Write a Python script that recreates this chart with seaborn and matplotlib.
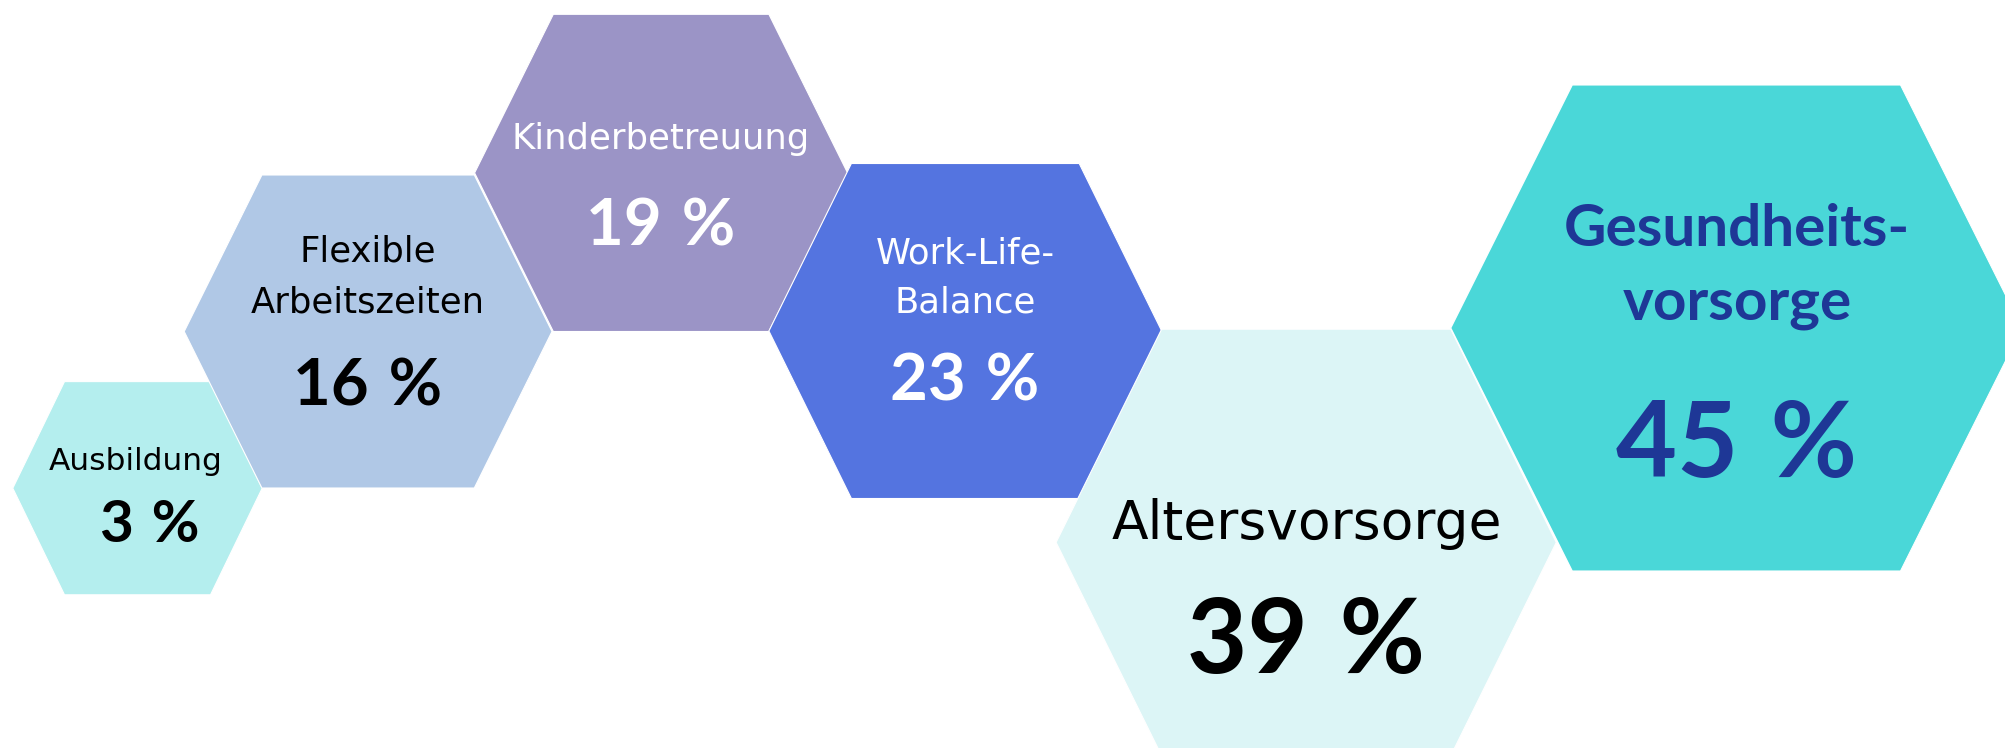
import numpy as np
import seaborn as sns
import matplotlib.pyplot as plt
from matplotlib.patches import Polygon

# data
categories = ["Ausbildung", "Flexible Arbeitszeiten", "Kinderbetreuung",
              "Work-Life-Balance", "Altersvorsorge", "Gesundheitsvorsorge"]
label_lines = [["Ausbildung"], ["Flexible", "Arbeitszeiten"], ["Kinderbetreuung"],
               ["Work-Life-", "Balance"], ["Altersvorsorge"], ["Gesundheits-", "vorsorge"]]
values = [3, 16, 19, 23, 39, 45]

# layout (pixels, figure is 2006 x 748): center x, center y, half width, half top edge, half height
hex_cx = [137.5, 368.1, 661.1, 965.3, 1306.2, 1736.4]
hex_cy = [488.2, 331.5, 172.9, 331.0, 542.4, 328.0]
hex_w = [124.7, 183.9, 186.5, 196.4, 250.1, 285.6]
hex_t = [73.0, 106.2, 107.8, 113.9, 144.6, 164.1]
hex_h = [106.6, 156.5, 158.6, 167.5, 213.2, 243.0]
# text: label baseline, line step, label size(pt), value baseline, value x, value size(pt), label bold
lab_x = [136, 368, 661, 965, 1307, 1737]
lab_y = [470, 261.5, 149, 263, 539, 245.5]
lab_step = [0, 51, 0, 49.5, 0, 74]
lab_size = [22.5, 25.5, 25.5, 25.5, 38.5, 42]
val_y = [542, 405.5, 245.7, 400.7, 672.6, 477]
val_x = [150, 368, 661, 965, 1306, 1737]
val_size = [42, 47, 47, 47, 75, 76]
lab_bold = [False, False, False, False, False, True]

hex_colors = ["#b4eeee", "#b0c8e6", "#9b94c6", "#5474e0", "#dcf5f6", "#4ad7d8"]
text_colors = ["#000000", "#000000", "#ffffff", "#ffffff", "#000000", "#1e3796"]

sns.set_theme(style="white")
plt.rcParams['font.family'] = ['Lato', 'DejaVu Sans']

fig = plt.figure(figsize=(20.06, 7.48), dpi=100)
ax = fig.add_axes([0, 0, 1, 1])
ax.set_xlim(0, 2006)
ax.set_ylim(748, 0)
ax.axis("off")

for i in range(len(categories)):
    cx, cy, w, t, h = hex_cx[i], hex_cy[i], hex_w[i], hex_t[i], hex_h[i]
    pts = np.array([[cx - w, cy], [cx - t, cy - h], [cx + t, cy - h],
                    [cx + w, cy], [cx + t, cy + h], [cx - t, cy + h]])
    ax.add_patch(Polygon(pts, closed=True, facecolor=hex_colors[i],
                         edgecolor="white", linewidth=0.8, zorder=i + 1))
    # regular labels in a wider face, bold ones in Lato
    fam = ['Lato', 'DejaVu Sans'] if lab_bold[i] else ['DejaVu Sans']
    for j, line in enumerate(label_lines[i]):
        ax.text(lab_x[i], lab_y[i] + j * lab_step[i], line, ha="center", va="baseline",
                fontsize=lab_size[i], color=text_colors[i], family=fam,
                fontweight="bold" if lab_bold[i] else "normal", zorder=20)
    ax.text(val_x[i], val_y[i], f"{values[i]} \u200a%", ha="center", va="baseline",
            fontsize=val_size[i], fontweight="bold", fontstyle="normal",
            color=text_colors[i], zorder=20)

fig.savefig("out.png", dpi=100)
